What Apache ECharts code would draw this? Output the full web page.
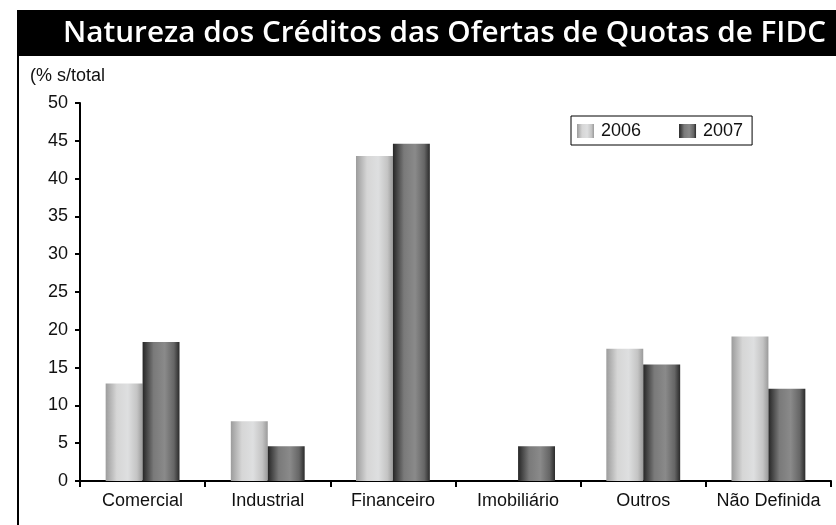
<!DOCTYPE html>
<html lang="pt">
<head>
    <meta charset="UTF-8">
    <script src="https://cdn.jsdelivr.net/npm/echarts@6/dist/echarts.min.js"></script>
    <style>
        html, body { margin: 0; padding: 0; background: #fff; }
    </style>
</head>
<body>
<div style="width: 836px;height: 525px" id="chart"></div>

<script>
    var categorias = ['Comercial', 'Industrial', 'Financeiro', 'Imobiliário', 'Outros', 'Não Definida']
    var anos = ['2006', '2007']
    var valores2006 = [12.9, 7.9, 43.0, 0, 17.5, 19.1]
    var valores2007 = [18.4, 4.6, 44.6, 4.6, 15.4, 12.2]
    var yTicks = [0, 5, 10, 15, 20, 25, 30, 35, 40, 45, 50]

    var claro = {
        type: 'linear', x: 0, y: 0, x2: 1, y2: 0,
        colorStops: [
            {offset: 0, color: '#9c9c9c'},
            {offset: 0.3, color: '#d6d6d6'},
            {offset: 0.6, color: '#dedfe0'},
            {offset: 0.85, color: '#c4c4c4'},
            {offset: 1, color: '#9a9a9a'}
        ]
    }
    var escuro = {
        type: 'linear', x: 0, y: 0, x2: 1, y2: 0,
        colorStops: [
            {offset: 0, color: '#262626'},
            {offset: 0.3, color: '#7a7a7a'},
            {offset: 0.6, color: '#8a8a8a'},
            {offset: 0.85, color: '#666'},
            {offset: 1, color: '#2a2a2a'}
        ]
    }

    var myChart = echarts.init(document.getElementById('chart'))
    var option = {
        backgroundColor: '#fff',
        animation: false,
        textStyle: {fontFamily: 'Liberation Sans, Arial, sans-serif'},
        graphic: [
            {type: 'rect', shape: {x: 17, y: 10, width: 819, height: 46}, style: {fill: '#000'}},
            {type: 'line', shape: {x1: 18, y1: 56, x2: 18, y2: 525}, style: {stroke: '#000', lineWidth: 2}},
            {type: 'text', left: 63, top: 19, style: {
                text: 'Natureza dos Créditos das Ofertas de Quotas de FIDC',
                fill: '#fff', font: '600 29.7px "Open Sans", sans-serif'
            }},
            {type: 'text', left: 30, top: 67, style: {
                text: '(% s/total', fill: '#111', font: '18px "Liberation Sans", Arial, sans-serif'
            }}
        ],
        legend: {
            data: anos,
            left: 571,
            top: 116,
            orient: 'horizontal',
            icon: 'rect',
            itemWidth: 17,
            itemHeight: 14,
            itemGap: 38,
            padding: [6, 9, 5, 6],
            borderColor: '#000',
            borderWidth: 1,
            textStyle: {fontSize: 18, color: '#111', padding: [0, 0, 0, 2]}
        },
        grid: {left: 80, right: 5, top: 103, bottom: 44, containLabel: false},
        xAxis: {
            type: 'category',
            data: categorias,
            axisLine: {lineStyle: {color: '#000', width: 2}},
            axisTick: {show: true, interval: 0, length: 6, lineStyle: {color: '#000', width: 2}},
            axisLabel: {interval: 0, fontSize: 18, color: '#111', margin: 11}
        },
        yAxis: {
            type: 'value',
            min: yTicks[0],
            max: yTicks[yTicks.length - 1],
            interval: yTicks[1] - yTicks[0],
            splitLine: {show: false},
            axisLine: {show: true, lineStyle: {color: '#000', width: 2}},
            axisTick: {show: true, length: 5, lineStyle: {color: '#000', width: 2}},
            axisLabel: {fontSize: 18, color: '#111', margin: 12}
        },
        series: [
            {
                name: anos[0],
                type: 'bar',
                barGap: '0%',
                barCategoryGap: '41%',
                itemStyle: {color: claro},
                data: valores2006
            },
            {
                name: anos[1],
                type: 'bar',
                itemStyle: {color: escuro},
                data: valores2007
            }
        ]
    }
    option && myChart.setOption(option)
</script>
</body>
</html>
